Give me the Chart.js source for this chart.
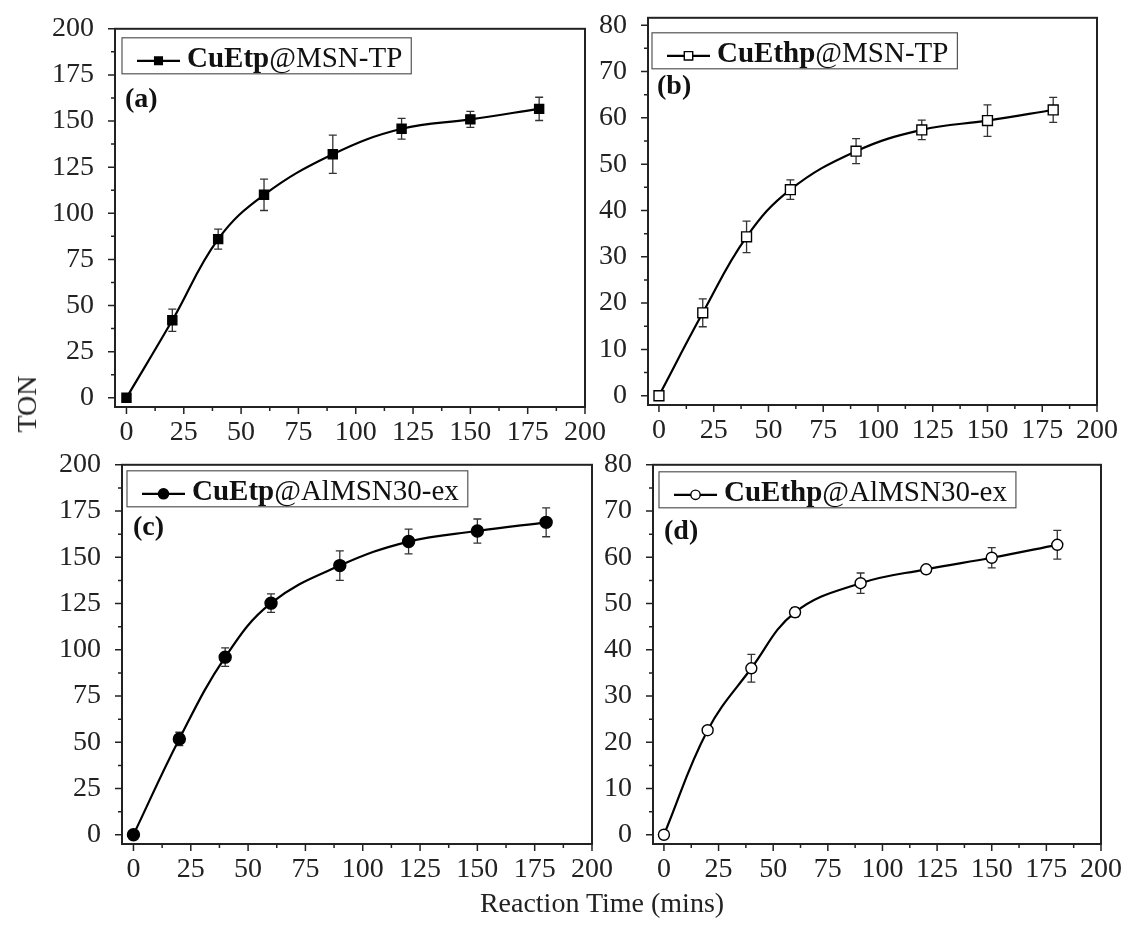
<!DOCTYPE html>
<html>
<head>
<meta charset="utf-8">
<script src="https://cdn.jsdelivr.net/npm/chart.js"></script>
<style>
html,body{margin:0;background:#fff;}
#wrap{position:relative;width:1148px;height:926px;overflow:hidden;font-family:"Liberation Serif","Times New Roman",serif;color:#222;}
.pane{position:absolute;}
.ttl{position:absolute;font-size:28px;line-height:28px;white-space:nowrap;}
#ylab{left:27px;top:404px;transform:translate(-50%,-50%) rotate(-90deg);}
#xlab{left:602px;top:903px;transform:translate(-50%,-50%);}
</style>
</head>
<body>
<div id="wrap">
  <div class="pane" id="pa"><canvas id="ca"></canvas></div>
  <div class="pane" id="pb"><canvas id="cb"></canvas></div>
  <div class="pane" id="pc"><canvas id="cc"></canvas></div>
  <div class="pane" id="pd"><canvas id="cd"></canvas></div>
  <div class="ttl" id="ylab">TON</div>
  <div class="ttl" id="xlab">Reaction Time (mins)</div>
</div>
<script>
/* ===== data ===== */
const times = [0,20,40,60,90,120,150,180];

const tonA = [0,42,86,110,132,145.8,150.9,156.6];   // CuEtp@MSN-TP
const errA = [0,6,5.4,8.5,10.4,5.6,4.3,6.3];
const tonB = [0,17.9,34.3,44.5,52.8,57.4,59.4,61.7]; // CuEthp@MSN-TP
const errB = [0,3,3.4,2.1,2.7,2.1,3.4,2.7];
const tonC = [0,51.8,96,125.2,145.5,158.5,164.2,168.9]; // CuEtp@AlMSN30-ex
const errC = [0,3.6,5,5,8,6.7,6.5,7.8];
const tonD = [0,22.6,36,48.1,54.4,57.4,59.9,62.7];  // CuEthp@AlMSN30-ex
const errD = [0,0.8,3,1,2.2,0.3,2.2,3.1];

const xTicks = [0,25,50,75,100,125,150,175,200];
const xMinor = [12.5,37.5,62.5,87.5,112.5,137.5,162.5,187.5];
const yTicks200 = [0,25,50,75,100,125,150,175,200];
const yMinor200 = [12.5,37.5,62.5,87.5,112.5,137.5,162.5,187.5];
const yTicks80 = [0,10,20,30,40,50,60,70,80];
const yMinor80 = [5,15,25,35,45,55,65,75];

/* ===== layout ===== */
const PADL=80, PADR=34, PADT=20, PADB=50;
const FONT='"Liberation Serif","Times New Roman",serif';

const panels = [
  {wrap:'pa', cv:'ca', area:[115,29,585,408], ymin:-5, ymax:200, yt:yTicks200, ym:yMinor200,
   vals:tonA, errs:errA, shape:'rect', open:false, r:6.4, bold:'CuEtp', rest:'@MSN-TP', tag:'(a)', leg:[7,9], tagPos:[10,71]},
  {wrap:'pb', cv:'cb', area:[648,18,1097,406], ymin:-2, ymax:81.6, yt:yTicks80, ym:yMinor80,
   vals:tonB, errs:errB, shape:'rect', open:true, r:7, bold:'CuEthp', rest:'@MSN-TP', tag:'(b)', leg:[4,15], tagPos:[9,69]},
  {wrap:'pc', cv:'cc', area:[122,465,592,845], ymin:-5, ymax:200, yt:yTicks200, ym:yMinor200,
   vals:tonC, errs:errC, shape:'circle', open:false, r:6, bold:'CuEtp', rest:'@AlMSN30-ex', tag:'(c)', leg:[5,6], tagPos:[11,63]},
  {wrap:'pd', cv:'cd', area:[653,465,1101,845], ymin:-2, ymax:80, yt:yTicks80, ym:yMinor80,
   vals:tonD, errs:errD, shape:'circle', open:true, r:5.5, bold:'CuEthp', rest:'@AlMSN30-ex', tag:'(d)', leg:[6,7], tagPos:[11,67]}
];
const byCanvas = {};

/* ===== helpers ===== */
function marker(ctx,p,x,y,r){
  ctx.save();
  ctx.beginPath();
  if(p.shape==='rect'){ const s=Math.SQRT1_2*r; ctx.rect(x-s,y-s,2*s,2*s); }
  else ctx.arc(x,y,r,0,Math.PI*2);
  ctx.fillStyle = p.open ? '#fff' : '#000';
  ctx.fill();
  ctx.lineWidth=1.4; ctx.strokeStyle='#000'; ctx.stroke();
  ctx.restore();
}

const framePlugin = {
  id:'frame',
  beforeDatasetsDraw(chart){
    const p=byCanvas[chart.canvas.id], ctx=chart.ctx, xs=chart.scales.x, ys=chart.scales.y;
    ctx.save();
    ctx.strokeStyle='#333'; ctx.lineWidth=1.3;
    times.forEach((t,i)=>{
      const e=p.errs[i]; if(!e) return;
      const px=xs.getPixelForValue(t), y1=ys.getPixelForValue(p.vals[i]+e), y2=ys.getPixelForValue(p.vals[i]-e);
      ctx.beginPath();
      ctx.moveTo(px,y1); ctx.lineTo(px,y2);
      ctx.moveTo(px-4,y1); ctx.lineTo(px+4,y1);
      ctx.moveTo(px-4,y2); ctx.lineTo(px+4,y2);
      ctx.stroke();
    });
    ctx.restore();
  },
  afterDraw(chart){
    const p=byCanvas[chart.canvas.id], ctx=chart.ctx, a=chart.chartArea, xs=chart.scales.x, ys=chart.scales.y;
    ctx.save();
    // frame
    ctx.strokeStyle='#222'; ctx.lineWidth=2;
    ctx.strokeRect(a.left,a.top,a.right-a.left,a.bottom-a.top);
    // ticks (outward)
    ctx.lineWidth=1.5;
    ctx.beginPath();
    xTicks.forEach(v=>{const x=xs.getPixelForValue(v); ctx.moveTo(x,a.bottom); ctx.lineTo(x,a.bottom+7);});
    xMinor.forEach(v=>{const x=xs.getPixelForValue(v); ctx.moveTo(x,a.bottom); ctx.lineTo(x,a.bottom+4);});
    p.yt.forEach(v=>{const y=ys.getPixelForValue(v); ctx.moveTo(a.left,y); ctx.lineTo(a.left-7,y);});
    p.ym.forEach(v=>{const y=ys.getPixelForValue(v); ctx.moveTo(a.left,y); ctx.lineTo(a.left-4,y);});
    ctx.stroke();

    // legend box
    ctx.font='bold 29px '+FONT;
    const wb=ctx.measureText(p.bold).width;
    ctx.font='29px '+FONT;
    const wr=ctx.measureText(p.rest).width;
    const bx=a.left+p.leg[0], by=a.top+p.leg[1], bw=65+wb+wr+9, bh=36;
    ctx.strokeStyle='#555'; ctx.lineWidth=1.2;
    ctx.strokeRect(bx,by,bw,bh);
    const ly=by+bh/2+5;
    ctx.strokeStyle='#000'; ctx.lineWidth=2.2;
    ctx.beginPath(); ctx.moveTo(bx+15,ly); ctx.lineTo(bx+58,ly); ctx.stroke();
    marker(ctx,p,bx+36.5,ly,p.r*0.85);
    ctx.fillStyle='#111'; ctx.textBaseline='alphabetic'; ctx.textAlign='left';
    ctx.font='bold 29px '+FONT;
    ctx.fillText(p.bold,bx+65,by+29);
    ctx.font='29px '+FONT;
    ctx.fillText(p.rest,bx+65+wb,by+29);

    // panel tag
    ctx.font='bold 28px '+FONT; ctx.textBaseline='middle';
    ctx.fillText(p.tag,a.left+p.tagPos[0],a.top+p.tagPos[1]);
    ctx.restore();
  }
};

/* ===== build ===== */
function build(p, cv){
  return new Chart(cv,{
    type:'line',
    data:{datasets:[{
      data: times.map((x,i)=>({x, y:p.vals[i]})),
      borderColor:'#000', borderWidth:2.2,
      tension:0.4,
      pointStyle:p.shape, pointRadius:p.r, pointHoverRadius:p.r,
      pointBackgroundColor:p.open?'#fff':'#000', pointBorderColor:'#000', pointBorderWidth:1.4,
      fill:false
    }]},
    options:{
      responsive:false, animation:false, devicePixelRatio:1,
      layout:{padding:{top:PADT,right:PADR,left:0,bottom:0}},
      plugins:{legend:{display:false}, tooltip:{enabled:false}},
      scales:{
        x:{type:'linear', min:-5, max:200,
           grid:{display:false}, border:{display:false},
           afterBuildTicks:s=>{s.ticks=xTicks.map(v=>({value:v}));},
           afterFit:s=>{s.height=PADB;},
           ticks:{padding:1, autoSkip:false, maxRotation:0, color:'#222', font:{family:FONT,size:28}}},
        y:{type:'linear', min:p.ymin, max:p.ymax,
           grid:{display:false}, border:{display:false},
           afterBuildTicks:s=>{s.ticks=p.yt.map(v=>({value:v}));},
           afterFit:s=>{s.width=PADL;},
           ticks:{padding:13, color:'#222', font:{family:FONT,size:28}}}
      }
    },
    plugins:[framePlugin]
  });
}

panels.forEach(p=>{
  byCanvas[p.cv]=p;
  const [l,t,r,b]=p.area;
  const W=(r-l)+PADL+PADR;
  let H=(b-t)+PADT+PADB;
  const w=document.getElementById(p.wrap);
  const cv=document.getElementById(p.cv);
  cv.width=W; cv.height=H;
  let chart=build(p,cv);

  // the plot area may get pushed down for the top tick label: rebuild with a taller canvas so the frame fits the target box
  const ct=chart.chartArea.top;
  if(Math.abs(ct-PADT)>0.5){
    chart.destroy();
    H=ct+(b-t)+PADB;
    cv.width=W; cv.height=H;
    chart=build(p,cv);
  }
  const top=chart.chartArea.top;
  w.style.left=(l-PADL)+'px'; w.style.top=(t-top)+'px';
  w.style.width=W+'px'; w.style.height=H+'px';
});
</script>
</body>
</html>
